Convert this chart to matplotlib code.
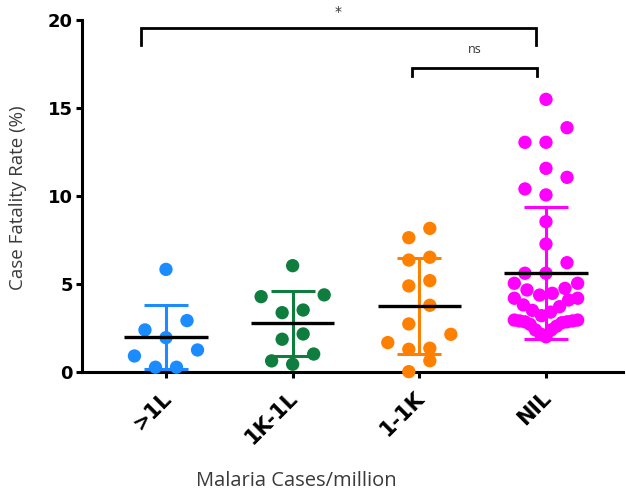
import numpy as np
import matplotlib
matplotlib.use('Agg')
import matplotlib.pyplot as plt
import matplotlib.transforms as mtrans

# groups (Malaria cases per million)
groups = ['>1L', '1K-1L', '1-1K', 'NIL']
colors = ['#1a8cff', '#0f7d3e', '#ff8000', '#ff00ff']

# case fatality rate (%) per state
cfr_gt1L = [5.83, 1.95, 2.39, 2.92, 0.27, 0.27, 0.91, 1.25]
cfr_1K_1L = [6.04, 3.37, 3.52, 4.28, 4.38, 2.16, 1.86, 0.44, 1.02, 0.63]
cfr_1_1K = [8.16, 7.63, 6.52, 6.36, 5.19, 4.89, 2.73, 3.79,
            1.29, 1.35, 1.67, 2.14, 0.02, 0.64]
cfr_nil = [15.49, 13.05, 13.05, 13.88, 11.57, 10.06, 10.40, 11.06, 8.54,
           7.27, 6.21, 5.04, 5.04, 5.61, 5.61,
           3.71, 3.81, 4.09, 4.19, 4.19, 4.37, 4.47, 4.66, 4.75,
           2.00, 2.15, 2.39, 2.39, 2.60, 2.70, 2.80, 2.85, 2.85,
           2.90, 2.90, 2.95, 2.95, 3.20, 3.40, 3.50]
data = [cfr_gt1L, cfr_1K_1L, cfr_1_1K, cfr_nil]

# significance brackets: (x1, x2, y_top, y_leg, label)
brackets = [(-0.20, 2.92, 19.53, 18.58, '*'),
            (1.94, 2.93, 17.26, 16.82, 'ns')]


def swarm_offsets(vals, bin_w=1.1, step=0.166, max_half=0.25):
    # prism-like column scatter: bin close values into rows, spread rows symmetric
    vals = list(vals)
    order = sorted(range(len(vals)), key=lambda i: vals[i])
    offs = [0.0] * len(vals)
    i = 0
    while i < len(order):
        start = vals[order[i]]
        row = [order[i]]
        j = i + 1
        while j < len(order) and vals[order[j]] - start <= bin_w:
            row.append(order[j])
            j += 1
        n = len(row)
        sp = step if n < 2 else min(step, 2 * max_half / (n - 1))
        slots = [(k - (n - 1) / 2) * sp for k in range(n)]
        # fill inner slots first, alternating left / right
        slots.sort(key=lambda s: (round(abs(s), 6), s))
        for idx, s in zip(row, slots):
            offs[idx] = s
        i = j
    return offs


fig = plt.figure(figsize=(6.26, 4.91), dpi=100)
ax = fig.add_axes([0.131, 0.2424, 0.864, 0.7169])

for k, vals in enumerate(data):
    v = np.array(vals)
    xs = k + np.array(swarm_offsets(v))
    ax.scatter(xs, v, s=92, color=colors[k], edgecolors='none', zorder=3,
               clip_on=False)
    m = v.mean()
    sd = v.std(ddof=1)
    ax.errorbar(k, m, yerr=sd, color=colors[k], lw=2.2, capsize=16,
                capthick=2.2, zorder=4, clip_on=False)
    ax.plot([k - 0.33, k + 0.33], [m, m], color='black', lw=2.4, zorder=5,
            solid_capstyle='butt')

for x1, x2, yt, yl, lab in brackets:
    ax.plot([x1, x1, x2, x2], [yl, yt, yt, yl], color='black', lw=2.0,
            clip_on=False, solid_joinstyle='miter')
    if lab == '*':
        ax.text((x1 + x2) / 2, yt + 0.5, lab, ha='center', va='bottom',
                fontsize=10, color='#333333', clip_on=False)
    else:
        ax.text((x1 + x2) / 2, yt + 0.7, lab, ha='center', va='bottom',
                fontsize=9, family='Open Sans', color='#333333', clip_on=False)

ax.set_xlim(-0.663, 3.607)
ax.set_ylim(0, 20)
ax.set_yticks([0, 5, 10, 15, 20])
ax.set_xticks(range(4))
ax.set_xticklabels(groups, rotation=45, ha='right', rotation_mode='anchor')

for s in ['top', 'right']:
    ax.spines[s].set_visible(False)
for s in ['left', 'bottom']:
    ax.spines[s].set_linewidth(2.2)
ax.tick_params(axis='both', width=2.2, length=4.5, labelsize=13, pad=2)
ax.tick_params(axis='x', pad=8, labelsize=15)
shift = mtrans.ScaledTranslation(-5 / 100, 2 / 100, fig.dpi_scale_trans)
for lab in ax.get_xticklabels():
    lab.set_transform(lab.get_transform() + shift)
for lab in ax.get_xticklabels() + ax.get_yticklabels():
    lab.set_fontweight('bold')

fig.text(0.028, 0.598, 'Case Fatality Rate (%)', rotation=90, ha='center',
         va='center', fontsize=13.5, family='Open Sans', color='#3a3a3a')
fig.text(0.474, 0.0204, 'Malaria Cases/million', ha='center', va='center',
         fontsize=14.5, family='Open Sans', color='#3a3a3a')

fig.savefig('out.png', dpi=100)
